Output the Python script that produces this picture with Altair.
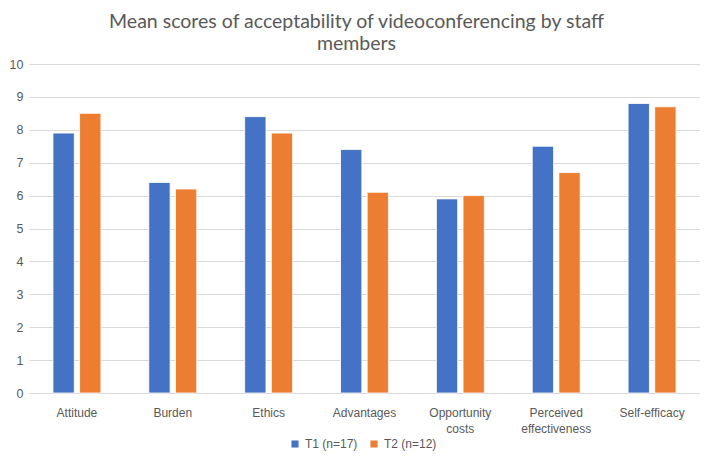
import altair as alt
import pandas as pd

categories = ["Attitude", "Burden", "Ethics", "Advantages", "Opportunity costs",
              "Perceived effectiveness", "Self-efficacy"]
t1_values = [7.9, 6.4, 8.4, 7.4, 5.9, 7.5, 8.8]
t2_values = [8.5, 6.2, 7.9, 6.1, 6.0, 6.7, 8.7]
series = ["T1 (n=17)", "T2 (n=12)"]
colors = ["#4472C4", "#ED7D31"]
y_ticks = list(range(0, 11))

rows = []
for c, a, b in zip(categories, t1_values, t2_values):
    rows.append({"category": c, "series": series[0], "value": a})
    rows.append({"category": c, "series": series[1], "value": b})
df = pd.DataFrame(rows)

grey = "#595959"

chart = alt.Chart(df).mark_bar(stroke="white", strokeWidth=0.8).encode(
    x=alt.X("category:N", sort=categories, title=None,
            scale=alt.Scale(paddingInner=0.5, paddingOuter=0.25),
            axis=alt.Axis(labelAngle=0, ticks=False, domain=True, domainColor="#D9D9D9",
                          labelColor=grey, labelFontSize=12, labelFont="Liberation Sans",
                          labelPadding=14, labelLineHeight=16,
                          labelExpr="split(datum.label, ' ')")),
    xOffset=alt.XOffset("series:N", sort=series, scale=alt.Scale(paddingInner=0.2)),
    y=alt.Y("value:Q", title=None,
            scale=alt.Scale(domain=[0, 10], nice=False),
            axis=alt.Axis(values=y_ticks, ticks=False, domain=False, gridColor="#D9D9D9",
                          labelColor=grey, labelFontSize=12.5, labelFont="Liberation Sans",
                          labelPadding=6)),
    color=alt.Color("series:N", sort=series,
                    scale=alt.Scale(domain=series, range=colors),
                    legend=alt.Legend(title=None, orient="none", direction="horizontal",
                                      legendX=260, legendY=374, symbolType="square",
                                      symbolSize=50, symbolStrokeWidth=0,
                                      labelColor=grey, labelFontSize=12,
                                      labelFont="Liberation Sans", columnPadding=10)),
).properties(
    width=671,
    height=329,
    padding={"left": 21, "top": 56, "right": 0, "bottom": 61},
    autosize=alt.AutoSizeParams(type="none"),
    title=alt.TitleParams(
        text=["Mean scores of acceptability of videoconferencing by staff", "members"],
        fontSize=19.5, font="Lato", fontWeight="normal", color=grey,
        anchor="middle", frame="group", offset=4, lineHeight=22, dx=-8),
).configure_view(stroke=None)

chart.save("out.html", embed_options={"renderer": "svg", "actions": False})
